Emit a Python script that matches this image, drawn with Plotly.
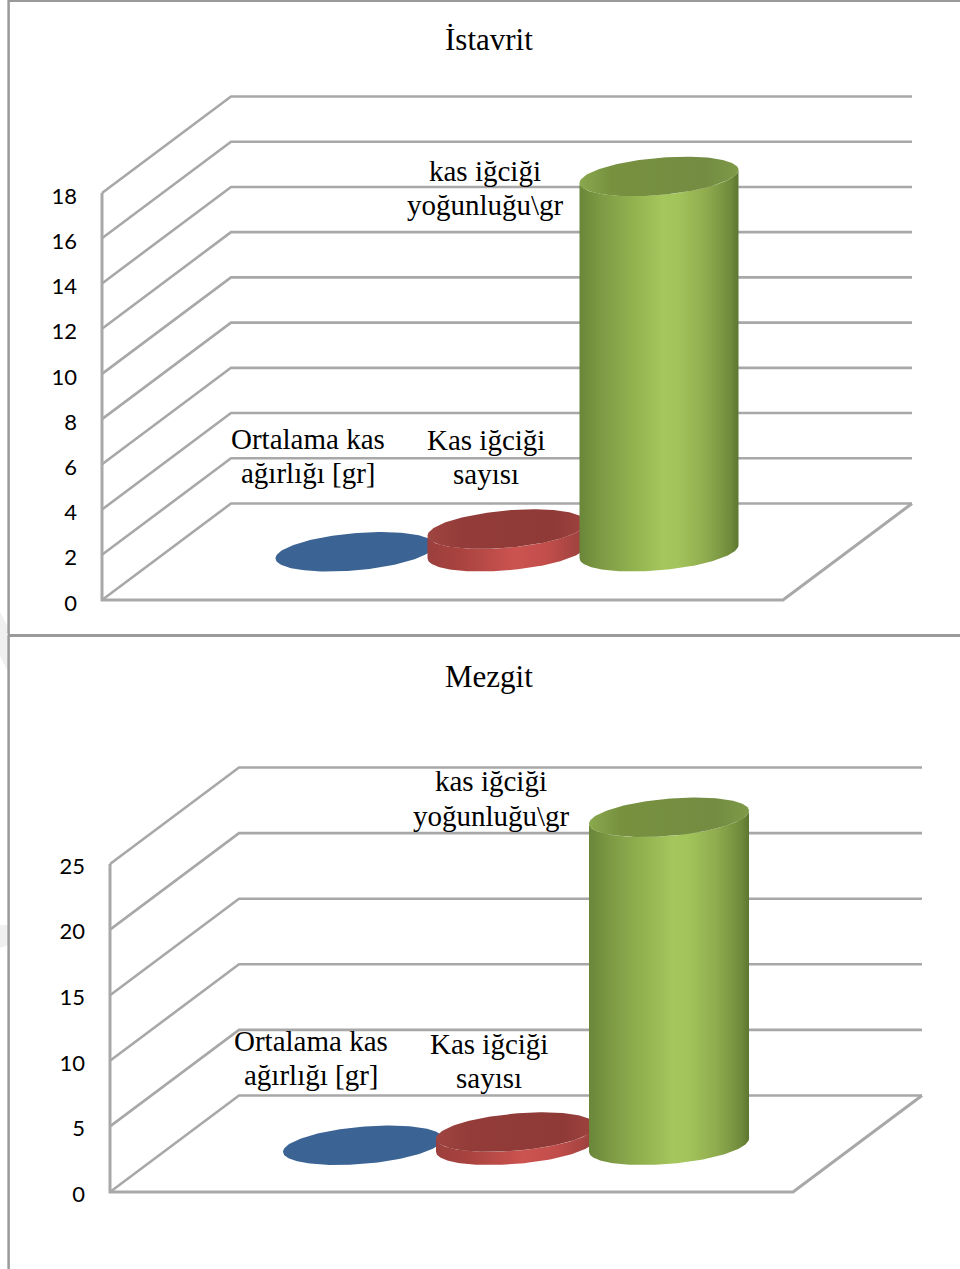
import numpy as np
import plotly.graph_objects as go

FIG_W, FIG_H = 960, 1269

# Values per chart, one entry per series
series_names = ["Ortalama kas ağırlığı [gr]", "Kas iğciği sayısı", "kas iğciği yoğunluğu\\gr"]
istavrit_values = [0.0, 1.0, 16.6]
mezgit_values = [0.0, 1.0, 25.0]
istavrit_ticks = [0, 2, 4, 6, 8, 10, 12, 14, 16, 18]
mezgit_ticks = [0, 5, 10, 15, 20, 25]

# Per-series shading of the cylinder cap and side, from left to right
CAPS = [
    [[0, "#3b6394"], [1, "#3b6394"]],
    [[0, "#a04541"], [0.2, "#933c39"], [0.8, "#8f3a37"], [1, "#a04340"]],
    [[0, "#8aa84d"], [0.2, "#77913f"], [0.8, "#738c42"], [1, "#7f9b48"]],
]
SIDES = [
    [[0, "#2f5080"], [1, "#2f5080"]],
    [[0, "#9c3f3c"], [0.2, "#a8433f"], [0.55, "#cc5350"], [0.75, "#c24e4b"], [1, "#98403c"]],
    [[0, "#6a8639"], [0.15, "#7f9c45"], [0.35, "#93b350"], [0.52, "#a4c65c"], [0.62, "#a2c45b"],
     [0.8, "#8fab4e"], [0.95, "#6f8b3b"], [1, "#5d7730"]],
]
GRID = "#a8a8a8"
FRAME = "#9a9a9a"
SHADOW = "#f0f0f0"

# Wall and floor geometry of each chart, in page pixels
CHARTS = [
    dict(title="İstavrit", title_y=39, values=istavrit_values, ticks=istavrit_ticks,
         top=0, bottom=634, x_front=102, x_right=783, y_zero=600, y_max=193,
         bar_step=152, bar_half=79.5, base_offset=0, label_shift=3,
         labels=[(["Ortalama kas", "ağırlığı [gr]"], 308, [439, 473]),
                 (["Kas iğciği", "sayısı"], 486, [440, 474]),
                 (["kas iğciği", "yoğunluğu\\gr"], 485, [171, 205])]),
    dict(title="Mezgit", title_y=677, values=mezgit_values, ticks=mezgit_ticks,
         top=635, bottom=1269, x_front=110, x_right=793, y_zero=1192, y_max=864,
         bar_step=153, bar_half=80, base_offset=1.5, label_shift=2,
         labels=[(["Ortalama kas", "ağırlığı [gr]"], 311, [1041, 1075]),
                 (["Kas iğciği", "sayısı"], 489, [1044, 1078]),
                 (["kas iğciği", "yoğunluğu\\gr"], 491, [781, 816])]),
]
DEPTH_X, DEPTH_Y = 129, 96.5   # oblique offset from front to back of the floor
DISC_DEPTH = 0.41              # share of the half floor depth taken by a cylinder's disc

fig = go.Figure()
annotations, shapes = [], []

for n, ch in enumerate(CHARTS, start=1):
    xa = f"x{n}" if n > 1 else "x"
    ya = f"y{n}" if n > 1 else "y"
    unit = (ch["y_zero"] - ch["y_max"]) / max(ch["ticks"])  # pixels per value unit
    to_val = lambda px, ch=ch, unit=unit: (ch["y_zero"] - px) / unit
    dv = DEPTH_Y / unit

    y_layout = dict(
        domain=[1 - ch["bottom"] / FIG_H, 1 - ch["top"] / FIG_H],
        range=[to_val(ch["bottom"]), to_val(ch["top"])],
        tickvals=ch["ticks"], showgrid=False, zeroline=False, showline=False,
        ticks="", ticklabelstandoff=25, ticklabelshift=ch["label_shift"],
        anchor="free", position=ch["x_front"] / FIG_W,
        tickfont=dict(family="Lato, Carlito, sans-serif", size=22, color="#000000"),
    )
    x_layout = dict(domain=[0, 1], range=[0, FIG_W], visible=False, anchor=ya)
    fig.update_layout({f"yaxis{n if n > 1 else ''}": y_layout,
                       f"xaxis{n if n > 1 else ''}": x_layout})

    # Walls: each tick runs across the side wall, then along the back wall
    x_back = ch["x_front"] + DEPTH_X
    x_far = ch["x_right"] + DEPTH_X
    for v in ch["ticks"]:
        fig.add_trace(go.Scatter(
            x=[ch["x_front"], x_back, x_far], y=[v, v + dv, v + dv], xaxis=xa, yaxis=ya,
            mode="lines", line=dict(color=GRID, width=2.6), hoverinfo="skip", showlegend=False))
    # Front axis edge and floor outline
    vmax = max(ch["ticks"])
    fig.add_trace(go.Scatter(
        x=[ch["x_front"], ch["x_front"], ch["x_right"], x_far], y=[vmax, 0, 0, dv],
        xaxis=xa, yaxis=ya, mode="lines", line=dict(color=GRID, width=3),
        hoverinfo="skip", showlegend=False))

    # Cylinders stand on the middle of the floor, one next to the other
    cx_mid = (ch["x_front"] + ch["x_right"]) / 2 + DEPTH_X / 2
    base_y = dv / 2 - ch["base_offset"] / unit
    dx_disc = DEPTH_X / 2 * DISC_DEPTH
    dy_disc = dv / 2 * DISC_DEPTH
    rx = np.sqrt(ch["bar_half"] ** 2 - dx_disc ** 2)
    tangent = np.arctan2(dx_disc, rx)  # angle of the rightmost point of the disc
    for i, (name, value) in enumerate(zip(series_names, ch["values"])):
        cx = cx_mid + (i - 1) * ch["bar_step"]
        t = np.linspace(0, 2 * np.pi, 181)
        ex = rx * np.cos(t) + dx_disc * np.sin(t)
        ey = dy_disc * np.sin(t)
        if value > 0:
            arc = np.linspace(tangent - np.pi, tangent, 91)
            ax = rx * np.cos(arc) + dx_disc * np.sin(arc)
            ay = dy_disc * np.sin(arc)
            fig.add_trace(go.Scatter(
                x=np.concatenate([cx + ax, cx + ax[::-1]]),
                y=np.concatenate([base_y + ay, base_y + value + ay[::-1]]),
                xaxis=xa, yaxis=ya, mode="lines", line=dict(width=0), fill="toself",
                fillgradient=dict(type="horizontal", colorscale=SIDES[i]),
                name=name, hoverinfo="skip", showlegend=False))
        fig.add_trace(go.Scatter(
            x=cx + ex, y=base_y + value + ey, xaxis=xa, yaxis=ya, mode="lines",
            line=dict(width=0), fill="toself",
            fillgradient=dict(type="horizontal", colorscale=CAPS[i]),
            name=name, hoverinfo="skip", showlegend=False))

    # Series names beside the cylinders, one annotation per line for tight leading
    for lines, x_px, y_list in ch["labels"]:
        for line, y_px in zip(lines, y_list):
            annotations.append(dict(
                x=x_px, y=to_val(y_px), xref=xa, yref=ya, text=line, showarrow=False,
                xanchor="center", yanchor="middle",
                font=dict(family="Liberation Serif, Times New Roman, serif", size=29, color="#000000")))

    annotations.append(dict(
        x=488.5, y=to_val(ch["title_y"]), xref=xa, yref=ya, text=ch["title"], showarrow=False,
        xanchor="center", yanchor="middle",
        font=dict(family="Liberation Serif, Times New Roman, serif", size=31, color="#000000")))

    # Chart frame: left edge of each panel
    shapes.append(dict(type="line", xref="paper", yref="paper", x0=8.6 / FIG_W, x1=8.6 / FIG_W,
                       y0=1 - ch["top"] / FIG_H, y1=1 - ch["bottom"] / FIG_H,
                       line=dict(color=FRAME, width=2.5)))

# Frame: top edge of the page and the rule between the two panels
for y_px, width in [(1, 2), (635.5, 3)]:
    shapes.append(dict(type="line", xref="paper", yref="paper", x0=8 / FIG_W, x1=1,
                       y0=1 - y_px / FIG_H, y1=1 - y_px / FIG_H,
                       line=dict(color=FRAME, width=width)))


def page_path(points):
    return "M " + " L ".join(f"{x / FIG_W},{1 - y / FIG_H}" for x, y in points) + " Z"


# Faint grey marks in the left margin
for pts in [[(0, 612), (8, 627), (8, 672), (0, 656)], [(0, 925), (8, 925), (8, 945), (0, 948)]]:
    shapes.append(dict(type="path", xref="paper", yref="paper", path=page_path(pts),
                       fillcolor=SHADOW, line=dict(width=0), layer="below"))

fig.update_layout(
    width=FIG_W, height=FIG_H, margin=dict(l=0, r=0, t=0, b=0),
    paper_bgcolor="#ffffff", plot_bgcolor="rgba(0,0,0,0)", showlegend=False,
    annotations=annotations, shapes=shapes, hovermode=False,
)
fig.write_html("out.html", config=dict(displayModeBar=False))
